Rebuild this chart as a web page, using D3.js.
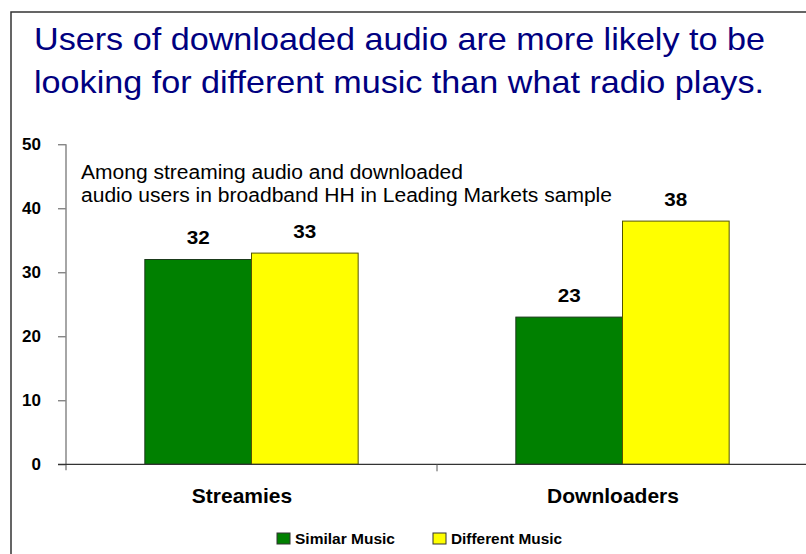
<!DOCTYPE html>
<html><head><meta charset="utf-8">
<script src="https://cdn.jsdelivr.net/npm/d3@7"></script>
<style>body{margin:0;background:#fff;}svg{display:block;font-family:Arial,"Liberation Sans",sans-serif;}</style>
</head><body>
<script>
const categories = ["Streamies", "Downloaders"];
const seriesNames = ["Similar Music", "Different Music"];
const similarMusic = [32, 23];
const differentMusic = [33, 38];
const yTicks = [0, 10, 20, 30, 40, 50];
const titleLines = ["Users of downloaded audio are more likely to be", "looking for different music than what radio plays."];
const noteLines = ["Among streaming audio and downloaded", "audio users in broadband HH in Leading Markets sample"];
const colors = ["#008000", "#ffff00"];

const W = 806, H = 554;
const svg = d3.select("body").append("svg").attr("width", W).attr("height", H);
svg.append("rect").attr("x", 11).attr("y", 12).attr("width", W + 10).attr("height", H + 10)
  .attr("fill", "#fff").attr("stroke", "#333").attr("stroke-width", 1.5);

function fit(sel, widthFn) {
  sel.each(function (d, i) {
    const w = widthFn(d, i);
    if (w) d3.select(this).attr("textLength", w).attr("lengthAdjust", "spacingAndGlyphs");
  });
}

const titleWidths = [731, 730];
svg.selectAll(".title").data(titleLines).enter().append("text")
  .attr("x", 34).attr("y", (d, i) => 50 + i * 43)
  .style("font-size", "32px").attr("fill", "#000080").text(d => d)
  .call(fit, (d, i) => titleWidths[i]);

const x0 = d3.scaleBand().domain(categories).range([66, 808]).paddingInner(0).paddingOuter(0);
const groupW = x0.step() * 0.575;
const x1 = d3.scaleBand().domain(seriesNames).range([0, groupW]);
const y = d3.scaleLinear().domain([0, 50]).range([464.3, 144.3]);

const data = categories.map((c, i) => ({cat: c, vals: [similarMusic[i], differentMusic[i]]}));

// y axis
const yAxis = svg.append("g").attr("transform", "translate(66,0)")
  .call(d3.axisLeft(y).tickValues(yTicks).tickSize(8).tickFormat(""));
yAxis.select(".domain").remove();
yAxis.append("line").attr("x1", 0).attr("x2", 0).attr("y1", y(50)).attr("y2", y(0) + 6).attr("stroke", "#888").attr("stroke-width", 1.5);
yAxis.selectAll(".tick line").attr("stroke", "#555");
svg.append("g").selectAll("text").data(yTicks).enter().append("text")
  .attr("x", 41).attr("y", d => y(d) + 6)
  .attr("text-anchor", "end").attr("font-size", 17).attr("font-weight", "bold").attr("fill", "#000")
  .text(d => d);

// note
const noteWidths = [382, 531];
svg.selectAll(".note").data(noteLines).enter().append("text")
  .attr("x", 81).attr("y", (d, i) => 179 + i * 23)
  .style("font-size", "19.5px").attr("fill", "#000").text(d => d)
  .call(fit, (d, i) => noteWidths[i]);

// bars
const g = svg.selectAll(".grp").data(data).enter().append("g")
  .attr("transform", d => `translate(${x0(d.cat) + (x0.step() - groupW) / 2},0)`);
g.selectAll("rect").data(d => d.vals.map((v, j) => ({v, j}))).enter().append("rect")
  .attr("x", d => x1(seriesNames[d.j])).attr("width", x1.bandwidth())
  .attr("y", d => y(d.v)).attr("height", d => y(0) - y(d.v))
  .attr("fill", d => colors[d.j]).attr("stroke", d => d.j === 0 ? "#1a3a1a" : "#555500").attr("stroke-width", 1);
g.selectAll(".lbl").data(d => d.vals.map((v, j) => ({v, j}))).enter().append("text")
  .attr("x", d => x1(seriesNames[d.j]) + x1.bandwidth() / 2).attr("y", d => y(d.v) - 15.5)
  .attr("text-anchor", "middle").style("font-size", "17.5px").style("font-weight", "bold").text(d => d.v)
  .call(fit, () => 23);

// baseline and x axis
svg.append("line").attr("x1", 58).attr("x2", W).attr("y1", y(0)).attr("y2", y(0)).attr("stroke", "#333").attr("stroke-width", 1.2);
svg.append("line").attr("x1", x0("Downloaders")).attr("x2", x0("Downloaders")).attr("y1", y(0)).attr("y2", y(0) + 7).attr("stroke", "#555");
svg.selectAll(".cat").data(categories).enter().append("text")
  .attr("x", d => x0(d) + x0.step() / 2 - 9.5).attr("y", 503)
  .attr("text-anchor", "middle").style("font-size", "21px").style("font-weight", "bold").text(d => d);

// legend
const legX = [277, 433];
const legW = [100, 111];
const leg = svg.selectAll(".leg").data(seriesNames).enter().append("g")
  .attr("transform", (d, i) => `translate(${legX[i]},533)`);
leg.append("rect").attr("width", 13).attr("height", 11).attr("fill", (d, i) => colors[i]).attr("stroke", "#333").attr("stroke-width", 1);
leg.append("text").attr("x", 18).attr("y", 10.5).style("font-size", "14.5px").style("font-weight", "bold").text(d => d)
  .call(fit, (d, i) => legW[i]);
</script>
</body></html>
